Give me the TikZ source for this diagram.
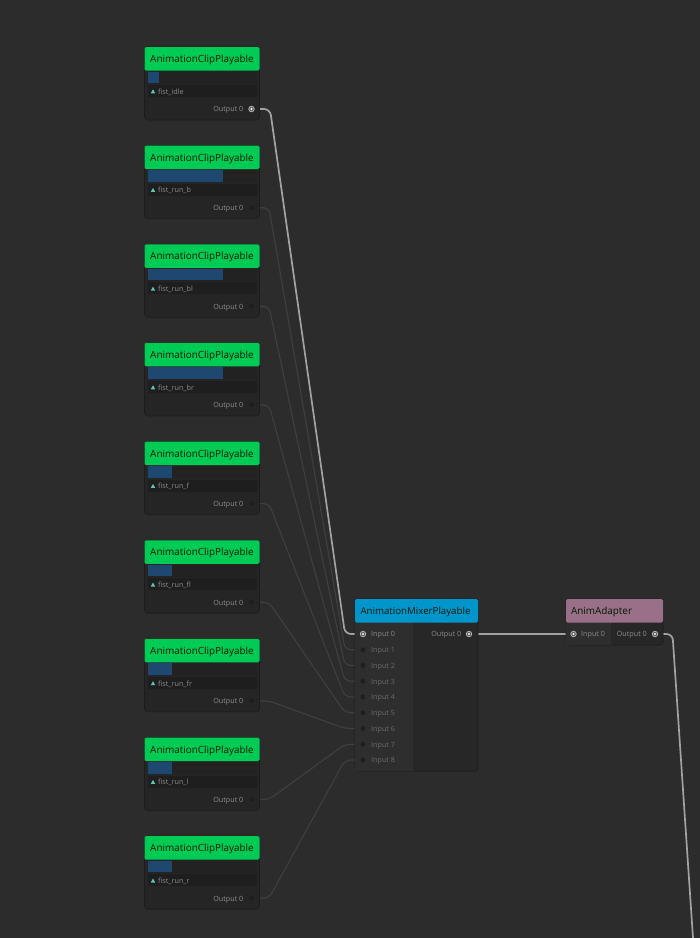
\documentclass[tikz,border=0pt]{standalone}
\usepackage{fontspec}
\setmainfont{Open Sans}
\usetikzlibrary{calc,backgrounds}
\definecolor{bgc}{HTML}{2C2C2C}
\definecolor{bodyc}{HTML}{252525}
\definecolor{rowc}{HTML}{1E1E1E}
\definecolor{barrow}{HTML}{222222}
\definecolor{edgec}{HTML}{1C1C1C}
\definecolor{clipgreen}{HTML}{00CC55}
\definecolor{mixblue}{HTML}{0096CC}
\definecolor{adaptmauve}{HTML}{9A6F88}
\definecolor{barblue}{HTML}{1F4870}
\definecolor{leftcol}{HTML}{2E2E2E}
\definecolor{rightcol}{HTML}{272727}
\definecolor{wireoff}{HTML}{3E3E3E}
\definecolor{wireon}{HTML}{A2A2A2}
\definecolor{textoff}{HTML}{6A6A6A}
\definecolor{texton}{HTML}{8C8C8C}
\definecolor{teal}{HTML}{5FC4B0}
\tikzset{
  headbox/.style={anchor=north west,inner sep=0pt,outer sep=0pt,minimum height=23.5pt,text height=9.5pt,text depth=2pt,text=black!90!green,font=\fontsize{9.9}{12}\selectfont,rounded corners=1.5pt},
  bodybox/.style={anchor=north west,inner sep=0pt,outer sep=0pt,draw=edgec,line width=.6pt,fill=bodyc,rounded corners=3pt},
  barbox/.style={anchor=north west,inner sep=0pt,outer sep=0pt,fill=barblue,minimum height=11.5pt},
  rowbox/.style={anchor=north west,inner sep=0pt,outer sep=0pt,fill=rowc,minimum height=12pt,minimum width=109pt},
  barrowbox/.style={anchor=north west,inner sep=0pt,outer sep=0pt,fill=barrow,minimum height=12pt,minimum width=109pt},
  labelt/.style={anchor=west,inner sep=0pt,text=texton,font=\fontsize{7.2}{9}\selectfont},
  portoff/.style={circle,inner sep=0pt,minimum size=5pt,fill=#1,draw=none},
  portoff/.default=rowc,
  porton/.style={circle,inner sep=0pt,minimum size=5.5pt,fill=black!65,draw=white!75!black,line width=.7pt,path picture={\fill[white] (path picture bounding box.center) circle (1.2pt);}},
  wire/.style={draw=wireoff,line width=1.2pt,rounded corners=6pt},
  wireactive/.style={draw=wireon,line width=1.7pt,rounded corners=6pt},
}
\begin{document}
\begin{tikzpicture}[x=1pt,y=-1pt]
\useasboundingbox (0,0) rectangle (700,938);
% clips
\foreach \i/\lab/\barw in {0/fist\_idle/11,1/fist\_run\_b/75,2/fist\_run\_bl/75,3/fist\_run\_br/75,4/fist\_run\_f/24,5/fist\_run\_fl/24,6/fist\_run\_fr/24,7/fist\_run\_l/24,8/fist\_run\_r/24}{
  \pgfmathsetmacro{\yy}{47+98.65*\i}
  \node[bodybox,minimum width=115pt,minimum height=73pt] (clip\i) at (144.5,\yy) {};
  \node[headbox,fill=clipgreen,minimum width=115pt,text width=115pt,align=center] (head\i) at (144.5,\yy) {AnimationClipPlayable};
  \node[barrowbox] (barrow\i) at (147.5,\yy+24.5) {};
  \node[barbox,minimum width=\barw pt] (bar\i) at (147.5,\yy+24.5) {};
  \node[rowbox] (row\i) at (147.5,\yy+38) {};
  \fill[teal] (150.8,\yy+46.3) -- (153,\yy+42.3) -- (155.2,\yy+46.3) -- cycle;
  \node[labelt] (name\i) at (158,\yy+45) {\lab};
  \ifnum\i=0
    \node[porton] (out\i) at (251.5,\yy+62) {};
  \else
    \node[portoff] (out\i) at (251.5,\yy+62) {};
  \fi
  \node[labelt,anchor=east] (outt\i) at (243.5,\yy+63.2) {Output 0};
}
% mixer
\node[bodybox,fill=rightcol,minimum width=123pt,minimum height=172pt] (mixer) at (355,599) {};
\fill[leftcol] (355.4,622) rectangle (413,770.6);
\node[headbox,fill=mixblue,minimum width=123pt,text width=112pt,align=left,font=\fontsize{9.7}{12}\selectfont] (mixhead) at (355,599) {AnimationMixerPlayable};
\foreach \i in {0,...,8}{
  \pgfmathsetmacro{\yy}{634+15.75*\i}
  \ifnum\i=0
    \node[porton] (in\i) at (363,\yy) {};
    \node[labelt] (int\i) at (371,\yy+1.2) {Input \i};
  \else
    \node[portoff=bgc!70!black] (in\i) at (363,\yy) {};
    \node[labelt,text=textoff] (int\i) at (371,\yy+1.2) {Input \i};
  \fi
}
\node[porton] (mixout) at (469,634) {};
\node[labelt,anchor=east] (mixoutt) at (461.5,635.2) {Output 0};
% adapter
\node[bodybox,fill=rightcol,minimum width=97pt,minimum height=46pt] (adapter) at (566,599) {};
\fill[leftcol] (566.4,622) rectangle (611,644.6);
\node[headbox,fill=adaptmauve,minimum width=97pt,text width=87pt,align=left] (adhead) at (566,599) {AnimAdapter};
\node[porton] (adin) at (573.5,634) {};
\node[labelt] (adint) at (581,635.2) {Input 0};
\node[porton] (adout) at (655,634) {};
\node[labelt,anchor=east] (adoutt) at (647,635.2) {Output 0};
\coordinate (wireend) at (693,938);
% wires
\begin{scope}[on background layer]
\fill[bgc] (0,0) rectangle (700,938);
\foreach \i in {1,...,8}{
  \draw[wire] (out\i.center) -- ($(out\i.center)+(17.5,0)$) -- ($(in\i.center)+(-18,0)$) -- (in\i.center);
}
\draw[wireactive] (out0.center) -- ($(out0.center)+(18.5,0)$) -- ($(in0.center)+(-18,0)$) -- (in0.center);
\draw[wireactive] (mixout.center) -- (adin.center);
\draw[wireactive] (adout.center) -- (672.5,634) -- (wireend);
\end{scope}
\end{tikzpicture}
\end{document}
